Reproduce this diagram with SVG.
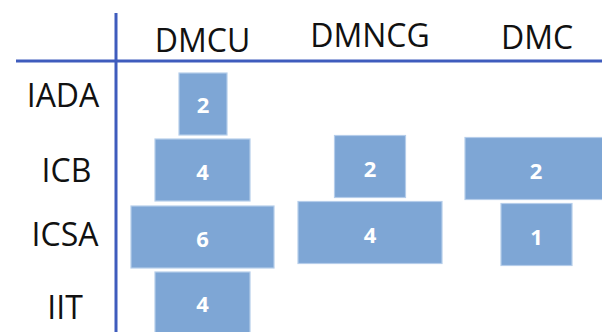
<svg xmlns="http://www.w3.org/2000/svg" width="602" height="332" viewBox="0 0 602 332">
<style>
.hdr{font-family:"Open Sans","Liberation Sans",sans-serif;font-size:32px;fill:#111;text-anchor:middle}
.box{fill:#7ea6d5;stroke:#b5cdea;stroke-width:1.2}
.num{font-family:"Open Sans","Liberation Sans",sans-serif;font-size:22px;font-weight:bold;fill:#fff;text-anchor:middle}
.ln{stroke:#3f5cbd;stroke-width:3;fill:none}
</style>
<rect width="602" height="332" fill="#fff"/>
<g id="grid">
<line class="ln" x1="116" y1="13" x2="116" y2="332"/>
<line class="ln" x1="16" y1="61" x2="602" y2="61"/>
</g>
<g id="col-DMCU"><text class="hdr" x="202.5" y="52">DMCU</text></g>
<g id="col-DMNCG"><text class="hdr" x="370" y="47">DMNCG</text></g>
<g id="col-DMC"><text class="hdr" x="537" y="49">DMC</text></g>
<g id="row-IADA"><text class="hdr" x="63" y="107">IADA</text></g>
<g id="row-ICB"><text class="hdr" x="66.5" y="182">ICB</text></g>
<g id="row-ICSA"><text class="hdr" x="65" y="246">ICSA</text></g>
<g id="row-IIT"><text class="hdr" x="65" y="319">IIT</text></g>
<g id="IADA-DMCU"><rect class="box" x="179" y="73" width="48" height="62"/><text class="num" x="203" y="113">2</text></g>
<g id="ICB-DMCU"><rect class="box" x="155" y="139" width="95" height="62"/><text class="num" x="202.5" y="180">4</text></g>
<g id="ICSA-DMCU"><rect class="box" x="131" y="206" width="143" height="62"/><text class="num" x="202.5" y="247">6</text></g>
<g id="IIT-DMCU"><rect class="box" x="155" y="272" width="95" height="62"/><text class="num" x="202.5" y="312">4</text></g>
<g id="ICB-DMNCG"><rect class="box" x="334.5" y="135.5" width="71" height="62"/><text class="num" x="370" y="177">2</text></g>
<g id="ICSA-DMNCG"><rect class="box" x="298" y="201.5" width="144" height="62"/><text class="num" x="370" y="243">4</text></g>
<g id="ICB-DMC"><rect class="box" x="465" y="137.5" width="142" height="62"/><text class="num" x="536" y="179">2</text></g>
<g id="ICSA-DMC"><rect class="box" x="501" y="203.5" width="71" height="62"/><text class="num" x="536.5" y="245">1</text></g>
</svg>
